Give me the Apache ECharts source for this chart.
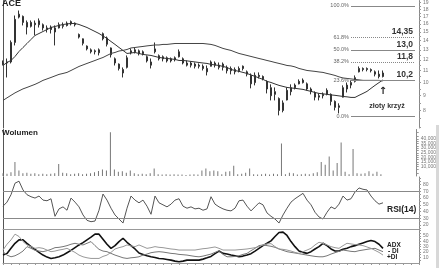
<!DOCTYPE html>
<html>
<head>
<meta charset="utf-8">
<script src="https://cdn.jsdelivr.net/npm/echarts@6/dist/echarts.min.js"></script>
<style>html,body{margin:0;padding:0;background:#fff;}#c{width:439px;height:268px;}</style>
</head>
<body>
<div id="c"></div>
<script>
// ---------- DATA ----------
const categories = Array.from({length: 105}, (_, i) => 'd' + i); // trading sessions
const open = [11.6,11.7,11.8,13.8,16.9,17.0,16.2,15.7,16.1,15.9,
  15.9,15.5,15.3,15.5,15.5,15.8,15.8,16.0,16.1,14.7,
  14.2,13.4,13.0,12.8,12.7,14.2,14.3,13.2,12.1,11.6,
  11.1,11.3,12.7,12.8,12.9,12.6,12.3,11.8,12.8,12.4,
  12.1,12.2,11.9,12.0,12.3,12.1,11.7,11.5,11.6,11.4,
  11.4,11.2,11.4,11.7,11.5,11.3,11.3,11.0,11.1,11.0,
  11.2,10.9,10.6,10.0,10.6,10.5,10.1,9.6,9.1,8.8,
  8.0,8.7,9.3,9.6,9.9,10.2,9.9,9.5,9.2,8.9,
  9.0,9.1,9.1,8.6,8.2,8.9,9.5,9.8,10.1,10.9,
  11.2,11.1,11.1,10.9,10.7,10.5];
const close = [11.7,11.8,13.8,16.6,17.3,16.2,15.6,16.2,15.9,16.4,
  15.5,15.3,15.6,15.0,15.9,15.7,16.1,16.3,15.9,14.4,
  13.7,13.1,12.8,12.9,13.0,14.8,13.6,12.5,11.7,11.2,
  10.8,12.2,12.9,13.0,12.6,12.8,11.9,11.5,13.1,12.1,
  12.3,11.9,12.1,12.2,12.8,11.7,11.5,11.7,11.4,11.5,
  11.2,10.9,11.8,11.5,11.3,11.6,11.0,11.2,10.9,11.2,
  11.4,10.7,9.9,10.6,10.5,10.3,9.5,9.0,9.3,8.0,
  8.5,9.4,9.6,9.8,10.1,10.0,9.5,9.3,8.9,9.0,
  9.1,9.4,8.6,8.2,8.3,9.6,9.8,10.0,10.4,11.2,
  11.1,11.2,11.0,10.7,10.5,10.8];
const high = [11.94,12.13,14.02,17.12,17.82,17.12,16.45,16.45,16.45,16.72,
  16.06,15.81,15.81,15.81,16.19,16.19,16.32,16.45,16.19,14.82,
  14.24,13.47,13.15,13.04,13.15,14.94,14.47,13.25,12.23,11.66,
  11.29,12.43,13.15,13.25,13.04,12.94,12.43,12.13,13.79,12.53,
  12.43,12.33,12.23,12.33,13.04,12.23,11.94,11.85,11.75,11.66,
  11.57,11.47,11.94,11.85,11.75,11.75,11.47,11.38,11.29,11.38,
  11.47,11.02,10.76,10.85,10.85,10.59,10.18,9.86,9.62,8.88,
  8.67,9.62,9.86,9.93,10.26,10.34,10.01,9.62,9.32,9.17,
  9.24,9.55,9.17,8.67,8.47,9.78,10.01,10.18,10.59,11.38,
  11.29,11.29,11.20,11.02,11.02,11.02];
const low = [11.47,10.42,11.66,13.47,16.72,15.81,14.71,15.55,14.59,15.55,
  15.18,14.94,14.82,13.47,15.43,15.43,15.68,15.81,15.68,14.24,
  13.47,12.94,12.63,12.53,12.43,14.02,13.36,12.23,11.47,11.02,
  10.42,11.20,12.53,12.63,12.43,12.43,11.75,11.20,12.63,11.94,
  11.85,11.75,11.75,11.85,12.23,11.57,11.38,11.29,11.20,11.20,
  11.02,10.59,11.38,11.29,11.11,11.02,10.76,10.68,10.68,10.85,
  11.02,10.51,9.55,9.78,10.34,10.18,9.17,8.67,8.67,7.69,
  7.88,8.67,9.03,9.47,9.86,9.93,9.39,9.10,8.67,8.67,
  8.81,9.03,8.33,8.00,7.81,8.88,9.24,9.55,10.01,10.85,
  10.94,10.94,10.85,10.51,10.34,10.42];
const maShort = [11.47,11.75,11.94,12.33,12.83,13.25,13.68,14.13,14.59,14.82,
  15.06,15.30,15.55,15.68,15.81,15.93,16.00,16.06,16.06,15.93,
  15.74,15.55,15.30,15.06,14.82,14.53,14.24,13.90,13.58,13.25,
  12.94,12.63,12.68,12.73,12.63,12.53,12.48,12.43,12.33,12.23,
  12.18,12.13,12.09,12.04,11.94,11.94,11.90,11.85,11.80,11.75,
  11.70,11.66,11.57,11.52,11.47,11.38,11.29,11.11,11.02,10.94,
  10.85,10.76,10.63,10.51,10.38,10.26,10.10,10.01,9.89,9.78,
  9.70,9.62,9.58,9.55,9.51,9.47,9.39,9.32,9.24,9.17,
  9.14,9.10,9.06,9.03,8.99,8.95,8.92,8.88,8.88,9.03,
  9.17,9.32,9.55,9.78,10.00,10.22];
const maLong = [8.67,8.85,9.03,9.21,9.36,9.51,9.62,9.74,9.86,10.01,
  10.18,10.30,10.42,10.55,10.68,10.76,10.85,11.02,11.20,11.38,
  11.52,11.66,11.80,11.94,12.09,12.23,12.43,12.63,12.73,12.88,
  12.94,13.04,13.20,13.25,13.31,13.36,13.42,13.47,13.52,13.52,
  13.58,13.58,13.63,13.68,13.68,13.68,13.68,13.68,13.68,13.68,
  13.68,13.63,13.58,13.47,13.31,13.15,13.04,12.94,12.78,12.63,
  12.53,12.43,12.33,12.23,12.13,12.04,11.94,11.85,11.75,11.66,
  11.57,11.47,11.43,11.34,11.20,11.11,11.02,10.98,10.94,10.89,
  10.85,10.76,10.68,10.59,10.47,10.38,10.34,10.30,10.26,10.22,
  10.18,10.18,10.18,10.18,10.18,10.14];
const volume = [3000,2500,4000,15000,6000,3000,3500,2500,3000,2000,
  2500,2000,2500,3000,13000,3500,3000,2000,2500,3000,
  2000,2500,3000,4000,5500,7000,6000,47000,7000,4500,
  5000,3500,6000,3000,2000,2500,2000,3000,8000,2000,
  1500,2000,1500,2000,1500,1500,1000,1500,2000,1500,
  6000,8000,5000,6000,5000,2000,4500,5000,11000,2000,
  2500,3500,8000,2000,1500,2000,2500,1500,2500,2000,
  35000,2000,3500,3000,1500,2000,2500,2000,3000,4000,
  15000,12000,21000,6000,14000,36000,4500,2000,29000,3000,
  2500,3000,5000,2500,4500,2000];
const rsi = [48,54,65,82,85,72,65,62,60,63,
  57,56,59,33,44,47,42,60,54,47,
  35,27,25,26,42,66,57,45,35,29,
  23,45,63,57,53,57,48,36,63,53,
  50,47,51,57,59,48,45,47,44,45,
  42,44,62,51,47,44,42,41,45,56,
  57,48,41,47,53,50,38,33,29,23,
  35,45,54,59,63,67,57,50,39,32,
  29,39,47,44,51,63,57,59,69,75,
  73,72,63,56,51,53];
const adx = [13.9,17.1,26.6,36.1,42.5,42.5,36.1,29.8,24.7,19.0,
  13.9,10.1,7.6,8.8,10.7,13.9,18.4,22.8,27.9,33.0,
  37.4,42.5,47.6,53.3,53.3,43.8,34.3,26.6,31.7,39.3,
  45.6,38.0,31.7,25.4,17.8,15.2,12.6,10.7,9.5,7.6,
  6.9,5.7,4.4,2.5,1.2,2.5,4.4,4.4,4.4,4.4,
  6.3,8.8,11.4,16.5,21.5,17.1,15.8,13.9,12.6,10.7,
  12.0,13.9,16.5,21.5,26.6,31.7,36.1,40.6,48.9,56.5,
  57.1,50.8,39.3,29.8,21.5,19.0,17.1,20.3,25.4,29.8,
  36.1,31.7,25.4,21.5,21.5,24.7,26.6,29.8,31.7,34.3,
  36.8,39.3,41.2,39.3,34.3,26.6];
const plusDI = [23.4,34.3,42.5,53.3,48.9,39.3,33.0,29.8,26.6,27.9,
  26.6,23.4,20.3,21.5,23.4,24.7,26.6,22.8,19.0,13.9,
  10.7,8.8,7.6,7.6,7.6,11.4,13.9,19.0,25.4,27.9,
  29.8,33.0,31.1,29.8,33.0,29.8,26.6,27.9,29.8,28.5,
  27.9,26.6,25.4,24.7,23.4,23.4,23.4,23.4,23.4,24.7,
  25.9,26.6,27.9,29.2,26.6,23.4,23.4,23.4,23.4,24.1,
  24.7,25.4,26.6,27.9,29.8,33.0,34.9,35.5,29.8,25.4,
  24.7,23.4,21.5,19.0,17.1,20.3,23.4,26.6,33.0,38.0,
  36.1,33.0,29.8,27.9,26.6,31.7,36.1,34.9,33.7,33.0,
  31.7,29.2,26.6,22.8,19.0,13.9];
const minusDI = [20.3,13.9,10.7,12.6,16.5,21.5,29.8,26.6,22.8,21.5,
  20.3,22.2,24.7,27.9,28.5,29.8,31.7,34.3,36.1,34.3,
  33.0,36.1,39.3,31.7,24.7,21.5,20.3,17.1,13.9,11.4,
  8.8,7.6,8.8,9.5,10.7,13.9,15.8,18.4,19.6,20.3,
  19.6,18.4,17.1,16.5,15.2,14.6,13.9,12.6,11.4,10.7,
  12.0,13.9,15.8,19.0,22.2,15.2,10.7,10.7,11.4,12.6,
  15.2,17.1,22.2,26.6,31.7,33.0,31.7,30.5,28.5,25.4,
  22.8,20.3,19.0,17.8,16.5,15.2,13.9,12.6,11.4,10.7,
  10.7,12.6,15.8,18.4,20.9,23.4,22.2,20.9,20.3,22.2,
  23.4,24.7,25.9,26.6,23.4,20.3];
// Fibonacci retracement
const fibLevels = [18.5, 14.35, 13.0, 11.8, 10.2, 7.65];
const fibPct = ['100.0%', '61.8%', '50.0%', '38.2%', '23.6%', '0.0%'];
const fibText = ['', '14,35', '13,0', '11,8', '10,2', ''];
const fibFrom = 87, fibTo = 103;
// tick labels and tick marks
const priceTicks = [8, 9, 10, 11, 12, 13, 14, 15, 16, 17, 18, 19];
const priceMinor = [7, 7.5, 8, 8.5, 9, 9.5, 10, 10.5, 11, 11.5, 12, 12.5, 13, 13.5, 14, 14.5, 15, 15.5, 16, 16.5, 17, 17.5, 18, 18.5, 19];
const volTicks = [5000, 10000, 15000, 20000, 25000, 30000, 35000, 40000, 45000];
const volMinor = [2500, 5000, 7500, 10000, 12500, 15000, 17500, 20000, 22500, 25000, 27500, 30000, 32500, 35000, 37500, 40000, 42500, 45000, 47500];
const rsiTicks = [20, 30, 40, 50, 60, 70, 80];
const rsiMinor = [15, 20, 25, 30, 35, 40, 45, 50, 55, 60, 65, 70, 75, 80, 85, 90];
const adxTicks = [10, 20, 30, 40, 50];
const adxMinor = [5, 10, 15, 20, 25, 30, 35, 40, 45, 50, 55, 60];
const rsiLevels = [70, 30];
const crossAt = {label: 'złoty krzyż', x: 95.5, y: 8.26, arrowX: 94.75, arrowY: 9.32};

// ---------- STYLE ----------
const FF = 'Liberation Sans, Arial, sans-serif';
const fibDash = ['solid', 'dotted', 'solid', 'dotted', 'solid', 'solid'];
const candles = open.map((o, i) => [o, close[i], low[i], high[i]]);

const rightAxis = (grid, extra, labels, ticks) => Object.assign({
  gridIndex: grid, position: 'right', type: 'value',
  axisLine: {show: true, lineStyle: {color: '#888', width: 1}},
  axisTick: {show: true, length: 2, customValues: ticks, lineStyle: {color: '#999'}},
  axisLabel: {customValues: labels, fontSize: 5, color: '#777', margin: 4, fontFamily: FF},
  splitLine: {show: false}
}, extra);
const leftAxis = (grid) => ({
  gridIndex: grid, position: 'left', type: 'value',
  axisLine: {show: true, onZero: false, lineStyle: {color: '#555', width: 1}},
  axisTick: {show: false}, axisLabel: {show: false}, splitLine: {show: false}
});
const xAx = (grid, line, ticks) => ({
  type: 'category', gridIndex: grid, data: categories, boundaryGap: false,
  axisLine: {show: line, onZero: false, lineStyle: {color: '#999', width: 1}},
  axisTick: {show: ticks, interval: 1, length: 2, lineStyle: {color: '#999'}},
  axisLabel: {show: false}, splitLine: {show: false}
});
const titleStyle = (size) => ({fontSize: size, fontWeight: 'bold', color: '#222', fontFamily: FF, lineHeight: size});

const option = {
  animation: false,
  backgroundColor: '#fff',
  title: [
    {text: 'ACE', left: 2, top: -1, padding: 0, textStyle: titleStyle(9)},
    {text: 'Wolumen', left: 2, top: 129, padding: 0, textStyle: titleStyle(8)},
    {text: 'RSI(14)', left: 387, top: 205, padding: 0, textStyle: titleStyle(8.5)},
    {text: 'ADX', left: 387, top: 241.5, padding: 0, textStyle: titleStyle(6.5)},
    {text: '- DI', left: 388, top: 248, padding: 0, textStyle: titleStyle(6.5)},
    {text: '+DI', left: 387, top: 254, padding: 0, textStyle: titleStyle(6.5)}
  ],
  graphic: [
    {type: 'rect', right: 0, top: 125, shape: {width: 3, height: 143}, style: {fill: '#d8d8d8'}, silent: true}
  ],
  grid: [
    {left: 3, right: 20, top: 0, height: 128},
    {left: 3, right: 20, top: 129.5, height: 46.5},
    {left: 3, right: 20, top: 177, height: 52},
    {left: 3, right: 20, top: 229, height: 34}
  ],
  xAxis: [xAx(0, false, false), xAx(1, false, false), xAx(2, true, false), xAx(3, true, true)],
  yAxis: [
    rightAxis(0, {type: 'log', min: 6.95, max: 19.3}, priceTicks, priceMinor),
    rightAxis(1, {min: 0, max: 50000}, volTicks, volMinor),
    rightAxis(2, {min: 14.2, max: 91.2}, rsiTicks, rsiMinor),
    rightAxis(3, {min: -1, max: 63}, adxTicks, adxMinor),
    leftAxis(0), leftAxis(1), leftAxis(2), leftAxis(3)
  ],
  series: [
    {
      type: 'candlestick', xAxisIndex: 0, yAxisIndex: 0, data: candles,
      barMaxWidth: 2, barMinWidth: 1,
      itemStyle: {color: '#333', color0: '#333', borderColor: '#333', borderColor0: '#333', borderWidth: 1},
      markPoint: {
        silent: true, symbol: 'circle', symbolSize: 0,
        data: [
          {coord: [crossAt.x, crossAt.y], label: {show: true, position: 'inside', formatter: crossAt.label,
            fontSize: 7, fontWeight: 'bold', color: '#333', fontFamily: FF}},
          {coord: [crossAt.arrowX, crossAt.arrowY], label: {show: true, position: 'inside', formatter: '↑',
            fontSize: 10, fontWeight: 'bold', color: '#222', fontFamily: 'DejaVu Sans'}}
        ]
      }
    },
    {
      type: 'line', xAxisIndex: 0, yAxisIndex: 0, data: maShort, symbol: 'none',
      lineStyle: {color: '#333', width: 1},
      markLine: {
        silent: true, symbol: ['none', 'none'],
        data: fibLevels.map((v, k) => [
          {coord: [fibFrom, v], lineStyle: {type: fibDash[k], color: '#888', width: 1},
           label: {show: true, position: 'start', formatter: fibPct[k], distance: 2,
             fontSize: 5.5, color: '#666', fontFamily: FF}},
          {coord: [fibTo, v]}
        ])
      }
    },
    {
      type: 'line', xAxisIndex: 0, yAxisIndex: 0, data: maLong, symbol: 'none',
      lineStyle: {color: '#444', width: 1},
      markLine: {
        silent: true, symbol: ['none', 'none'],
        data: fibLevels.map((v, k) => [v, k]).filter(p => fibText[p[1]] !== '').map(p => [
          {coord: [fibFrom, p[0]], lineStyle: {color: 'rgba(0,0,0,0)', width: 1},
           label: {show: true, position: 'insideEndTop', formatter: fibText[p[1]], distance: [2, 1],
             fontSize: 8.5, fontWeight: 'bold', color: '#333', fontFamily: FF}},
          {coord: [fibTo, p[0]]}
        ])
      }
    },
    {
      type: 'bar', xAxisIndex: 1, yAxisIndex: 1, data: volume, barWidth: 1,
      itemStyle: {color: '#777'}
    },
    {
      type: 'line', xAxisIndex: 2, yAxisIndex: 2, data: rsi, symbol: 'none',
      lineStyle: {color: '#555', width: 1},
      markLine: {
        silent: true, symbol: ['none', 'none'], label: {show: false},
        lineStyle: {type: 'solid', color: '#888', width: 1},
        data: rsiLevels.map(v => ({yAxis: v}))
      }
    },
    {type: 'line', xAxisIndex: 3, yAxisIndex: 3, data: adx, symbol: 'none', lineStyle: {color: '#111', width: 1.6}},
    {type: 'line', xAxisIndex: 3, yAxisIndex: 3, data: minusDI, symbol: 'none', lineStyle: {color: '#777', width: 1}},
    {type: 'line', xAxisIndex: 3, yAxisIndex: 3, data: plusDI, symbol: 'none', lineStyle: {color: '#999', width: 1}}
  ]
};
const chart = echarts.init(document.getElementById('c'), null, {renderer: 'canvas'});
chart.setOption(option);
</script>
</body>
</html>
